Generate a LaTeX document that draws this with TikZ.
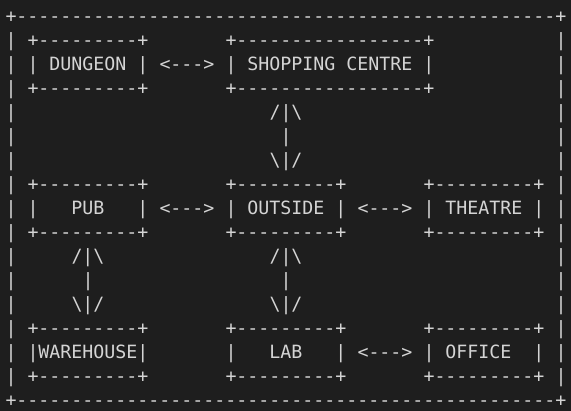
\documentclass[tikz,border=0pt]{standalone}
\usepackage{fontspec}
\setmonofont{DejaVu Sans Mono}
\definecolor{bg}{HTML}{1E1E1E}
\definecolor{fg}{HTML}{D4D4D4}
\tikzset{asc/.style={inner sep=0pt, outer sep=0pt, anchor=base west, text=fg,
  font=\ttfamily\fontsize{18.27}{20}\selectfont}}
% #1 name, #2 column, #3 row, #4 text
\newcommand\asciiat[4]{\node[asc] (#1) at ({5.5+11*#2},{-22.3-24*#3}) {#4};}
\newcommand\bx{+---------+}
\begin{document}
\begin{tikzpicture}[x=1pt,y=1pt]
\fill[bg] (0,0) rectangle (571,-411);
\useasboundingbox (0,0) rectangle (571,-411);
% outer frame
\asciiat{frametop}{0}{0}{+-------------------------------------------------+}
\asciiat{framebot}{0}{16}{+-------------------------------------------------+}
\foreach \r in {1,...,15}{
  \asciiat{fl\r}{0}{\r}{|}
  \asciiat{fr\r}{50}{\r}{|}
}
% row 1-3: dungeon, shopping centre
\asciiat{dungeonT}{2}{1}{\bx}
\asciiat{dungeon}{2}{2}{|~DUNGEON~|}
\asciiat{dungeonB}{2}{3}{\bx}
\asciiat{dsArrow}{14}{2}{<--->}
\asciiat{shopT}{20}{1}{+-----------------+}
\asciiat{shop}{20}{2}{|~SHOPPING~CENTRE~|}
\asciiat{shopB}{20}{3}{+-----------------+}
% shop - outside
\asciiat{soA}{24}{4}{/|\textbackslash}
\asciiat{soB}{25}{5}{|}
\asciiat{soC}{24}{6}{\textbackslash|/}
% row 7-9: pub, outside, theatre
\asciiat{pubT}{2}{7}{\bx}
\asciiat{pub}{2}{8}{|~~~PUB~~~|}
\asciiat{pubB}{2}{9}{\bx}
\asciiat{poArrow}{14}{8}{<--->}
\asciiat{outsideT}{20}{7}{\bx}
\asciiat{outside}{20}{8}{|~OUTSIDE~|}
\asciiat{outsideB}{20}{9}{\bx}
\asciiat{otArrow}{32}{8}{<--->}
\asciiat{theatreT}{38}{7}{\bx}
\asciiat{theatre}{38}{8}{|~THEATRE~|}
\asciiat{theatreB}{38}{9}{\bx}
% pub - warehouse, outside - lab
\asciiat{pwA}{6}{10}{/|\textbackslash}
\asciiat{pwB}{7}{11}{|}
\asciiat{pwC}{6}{12}{\textbackslash|/}
\asciiat{olA}{24}{10}{/|\textbackslash}
\asciiat{olB}{25}{11}{|}
\asciiat{olC}{24}{12}{\textbackslash|/}
% row 13-15: warehouse, lab, office
\asciiat{wareT}{2}{13}{\bx}
\asciiat{ware}{2}{14}{|WAREHOUSE|}
\asciiat{wareB}{2}{15}{\bx}
\asciiat{labT}{20}{13}{\bx}
\asciiat{lab}{20}{14}{|~~~LAB~~~|}
\asciiat{labB}{20}{15}{\bx}
\asciiat{loArrow}{32}{14}{<--->}
\asciiat{officeT}{38}{13}{\bx}
\asciiat{office}{38}{14}{|~OFFICE~~|}
\asciiat{officeB}{38}{15}{\bx}
\end{tikzpicture}
\end{document}
